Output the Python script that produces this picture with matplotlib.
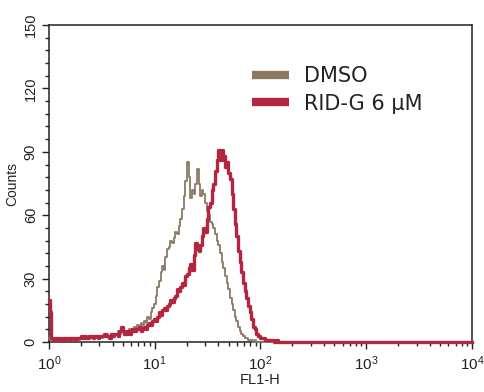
import numpy as np
import matplotlib
matplotlib.use("Agg")
import matplotlib.pyplot as plt
from matplotlib.lines import Line2D
from matplotlib.ticker import MultipleLocator, LogLocator, NullFormatter

plt.rcParams['font.family'] = ['Liberation Sans', 'DejaVu Sans']

# histogram counts per channel, 64 channels per decade (256 channels over 10^0..10^4)
chan_per_decade = 64

dmso = [
    2, 1, 2, 1, 1, 2, 1, 2, 2, 1, 2, 1, 2, 2, 1, 2,
    2, 2, 1, 2, 2, 3, 2, 2, 3, 2, 2, 3, 3, 2, 3, 3,
    2, 3, 3, 4, 3, 3, 4, 3, 4, 4, 5, 4, 6, 5, 4, 5,
    5, 6, 5, 6, 7, 6, 8, 7, 9, 8, 10, 9, 12, 11, 14, 16,
    18, 22, 26, 29, 33, 36, 34, 40, 44, 45, 48, 47, 49, 52, 51, 55,
    58, 63, 69, 76, 85, 78, 68, 72, 70, 75, 82, 75, 69, 72, 70, 66,
    62, 60, 57, 56, 54, 51, 48, 46, 42, 38, 35, 31, 28, 25, 21, 18,
    15, 12, 10, 7, 5, 4, 3, 2, 2, 1, 1, 1, 0, 1, 0, 0,
    0, 0, 0, 0, 0, 0, 0, 0, 0, 0, 0, 0, 0, 0, 0, 0,
    0, 0, 0, 0, 0, 0, 0, 0, 0, 0, 0, 0, 0, 0, 0, 0,
    0, 0, 0, 0, 0, 0, 0, 0, 0, 0, 0, 0, 0, 0, 0, 0,
    0, 0, 0, 0, 0, 0, 0, 0, 0, 0, 0, 0, 0, 0, 0, 0,
    0, 0, 0, 0, 0, 0, 0, 0, 0, 0, 0, 0, 0, 0, 0, 0,
    0, 0, 0, 0, 0, 0, 0, 0, 0, 0, 0, 0, 0, 0, 0, 0,
    0, 0, 0, 0, 0, 0, 0, 0, 0, 0, 0, 0, 0, 0, 0, 0,
    0, 0, 0, 0, 0, 0, 0, 0, 0, 0, 0, 0, 0, 0, 0, 0, 0,
]

rid_g = [
    20, 14, 2, 1, 2, 2, 1, 2, 1, 2, 2, 1, 2, 1, 2, 2,
    1, 2, 2, 2, 3, 2, 3, 2, 2, 3, 3, 2, 3, 3, 2, 3,
    3, 3, 4, 3, 3, 2, 4, 3, 4, 4, 3, 5, 7, 5, 4, 4,
    5, 4, 5, 6, 5, 6, 6, 7, 5, 6, 7, 6, 8, 9, 8, 10,
    11, 10, 12, 14, 13, 15, 16, 15, 17, 18, 20, 19, 21, 22, 25, 24,
    26, 28, 27, 31, 32, 35, 37, 34, 41, 47, 44, 43, 46, 50, 54, 52,
    58, 64, 66, 72, 75, 81, 86, 91, 86, 91, 88, 83, 85, 80, 77, 70,
    63, 56, 50, 43, 38, 33, 28, 24, 21, 17, 14, 11, 7, 6, 4, 3,
    2, 2, 2, 1, 1, 1, 1, 1, 1, 0, 1, 0, 0, 0, 0, 0,
    0, 0, 0, 0, 0, 0, 0, 0, 0, 0, 0, 0, 0, 0, 0, 0,
    0, 0, 0, 0, 0, 0, 0, 0, 0, 0, 0, 0, 0, 0, 0, 0,
    0, 0, 0, 0, 0, 0, 0, 0, 0, 0, 0, 0, 0, 0, 0, 0,
    0, 0, 0, 0, 0, 0, 0, 0, 0, 0, 0, 0, 0, 0, 0, 0,
    0, 0, 0, 0, 0, 0, 0, 0, 0, 0, 0, 0, 0, 0, 0, 0,
    0, 0, 0, 0, 0, 0, 0, 0, 0, 0, 0, 0, 0, 0, 0, 0,
    0, 0, 0, 0, 0, 0, 0, 0, 0, 0, 0, 0, 0, 0, 0, 0, 0,
]

labels = ['DMSO', 'RID-G 6 \u00b5M']
colors = ['#8a7862', '#b3263f']

fig = plt.figure(figsize=(4.85, 3.92), dpi=100)
ax = fig.add_axes([0.101, 0.1276, 0.872, 0.8084])

fl1 = 10 ** (np.arange(len(dmso)) / chan_per_decade)
ax.plot(fl1, dmso, drawstyle='steps-mid', color=colors[0], lw=1.3, zorder=3, clip_on=False)
fl1 = 10 ** (np.arange(len(rid_g)) / chan_per_decade)
ax.plot(fl1, rid_g, drawstyle='steps-mid', color=colors[1], lw=2.4, zorder=4, clip_on=False)

ax.set_xscale('log')
ax.set_xlim(1, 1e4)
ax.set_ylim(0, 150)
ax.yaxis.set_major_locator(MultipleLocator(30))
ax.yaxis.set_minor_locator(MultipleLocator(6))
ax.xaxis.set_major_locator(LogLocator(base=10, numticks=10))
ax.xaxis.set_minor_locator(LogLocator(base=10, subs=np.arange(2, 10), numticks=10))
ax.xaxis.set_minor_formatter(NullFormatter())

ax.tick_params(which='major', direction='out', length=5, width=1, colors='#222222',
               top=False, right=False)
ax.tick_params(which='minor', direction='out', length=3, width=1, colors='#222222',
               top=False, right=False)
ax.tick_params(axis='x', pad=4, labelsize=11)
ax.tick_params(axis='y', pad=3, labelsize=10.5)
for t in ax.get_yticklabels():
    t.set_rotation(90)
    t.set_va('center')

for s in ax.spines.values():
    s.set_color('#222222')
    s.set_linewidth(1.1)

ax.set_xlabel('FL1-H', fontsize=10.5, labelpad=0, color='#222222')
ax.set_ylabel('Counts', fontsize=10, labelpad=3, color='#222222')

handles = [Line2D([], [], color=c, lw=6, solid_capstyle='butt') for c in colors]
leg = ax.legend(handles, labels, loc='upper left', bbox_to_anchor=(0.48, 0.87),
                frameon=False, prop={'family': 'DejaVu Sans', 'size': 15},
                handlelength=1.8, handletextpad=0.7,
                labelspacing=0.35, borderpad=0, borderaxespad=0)
for t in leg.get_texts():
    t.set_color('#222222')

fig.savefig('out.png', dpi=100)
